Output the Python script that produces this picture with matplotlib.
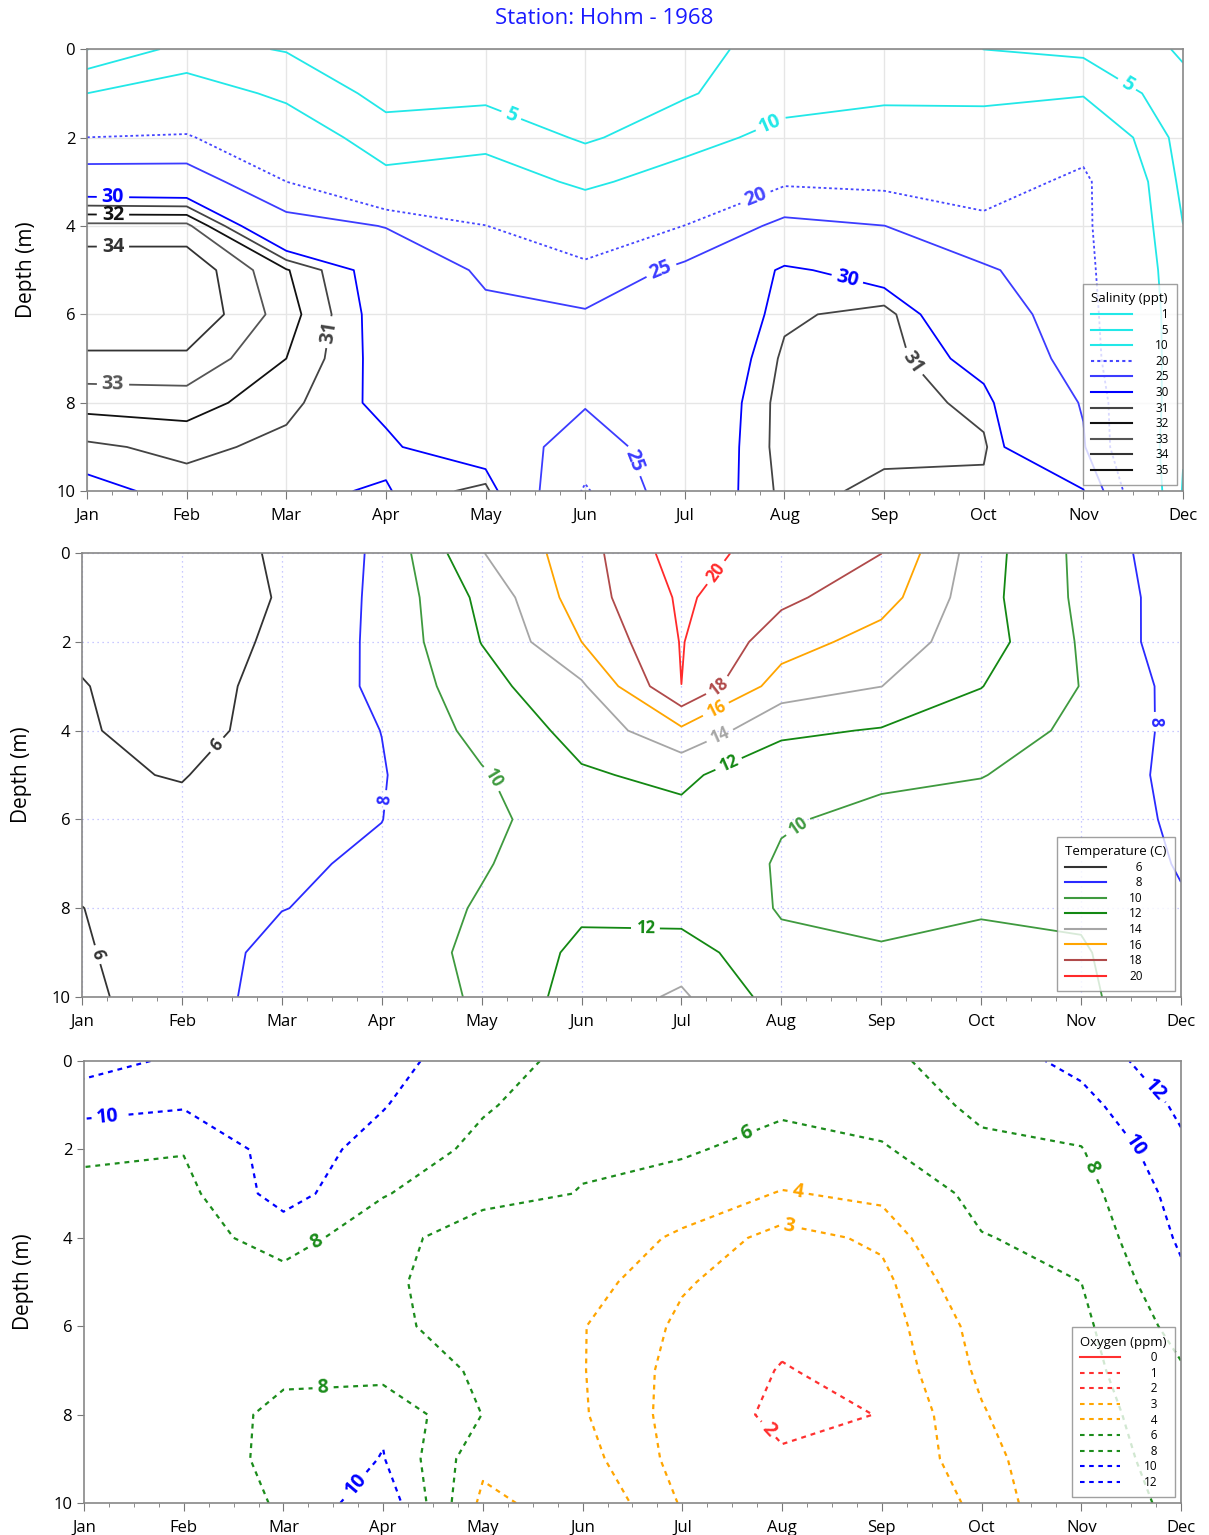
import numpy as np
import matplotlib
matplotlib.use('Agg')
import matplotlib.pyplot as plt
from matplotlib.lines import Line2D

plt.rcParams['font.family'] = ['Open Sans', 'DejaVu Sans']

months = ['Jan', 'Feb', 'Mar', 'Apr', 'May', 'Jun', 'Jul', 'Aug', 'Sep', 'Oct', 'Nov', 'Dec']
depths = [0, 1, 2, 3, 4, 5, 6, 7, 8, 9, 10]

# salinity (ppt), one row per month, depth 0..10 m
salinity = [
    [0.9, 10.0, 20.05, 28.3, 33.3, 34.8, 34.9, 33.8, 32.4, 30.8, 29.5],   # Jan
    [6.5, 13.0, 20.6, 28.1, 33.3, 34.8, 34.9, 33.8, 32.5, 31.3, 30.5],    # Feb
    [4.71, 8.8, 14.1, 20.02, 27.3, 32.1, 32.5, 32.0, 31.3, 30.7, 30.2],   # Mar
    [2.0, 3.5, 7.0, 11.8, 24.8, 29.0, 29.2, 29.4, 29.6, 30.3, 29.9],      # Apr
    [2.0, 3.9, 8.0, 13.4, 20.1, 24.2, 26.0, 26.8, 27.3, 28.5, 31.5],      # May
    [1.5, 2.8, 4.4, 8.8, 15.3, 21.5, 25.5, 25.8, 25.4, 22.5, 19.5],       # Jun
    [3.5, 4.6, 7.6, 13.0, 20.1, 26.2, 27.0, 27.5, 28.0, 28.2, 28.5],      # Jul
    [6.8, 7.5, 12.0, 19.3, 26.4, 30.4, 30.75, 31.25, 31.5, 31.5, 31.3],   # Aug
    [7.5, 8.7, 13.5, 18.7, 25.05, 29.0, 31.5, 31.6, 31.7, 31.2, 30.8],    # Sep
    [4.97, 8.8, 12.9, 17.1, 21.5, 25.6, 27.4, 29.2, 30.6, 31.2, 30.7],    # Oct
    [3.9, 9.45, 17.0, 21.5, 21.5, 22.0, 22.5, 23.0, 24.7, 25.4, 30.2],    # Nov
    [0.6, 1.9, 3.0, 3.8, 5.05, 6.0, 6.5, 6.5, 6.0, 5.3, 4.7],             # Dec
]
sal_levels = [1, 5, 10, 20, 25, 30, 31, 32, 33, 34, 35]

# temperature (C)
temperature = [
    [5.3, 5.5, 5.8, 6.05, 6.2, 6.27, 6.5, 6.4, 5.98, 5.85, 5.6],          # Jan
    [5.4, 5.4, 5.5, 5.43, 5.2, 5.9, 6.5, 6.7, 6.8, 6.85, 7.03],           # Feb
    [6.15, 6.07, 6.18, 6.45, 6.87, 7.2, 7.5, 7.75, 7.95, 8.65, 8.76],     # Mar
    [8.38, 8.48, 8.51, 8.44, 8.02, 7.885, 7.98, 8.25, 8.6, 8.8, 9.0],     # Apr
    [13.9, 12.48, 12.05, 11.27, 10.66, 9.8, 9.3, 9.8, 10.23, 10.51, 10.23],  # May
    [17.13, 17.0, 16.0, 13.67, 12.6, 11.8, 11.56, 11.47, 11.7, 12.4, 12.9],  # Jun
    [21.0, 20.3, 20.1, 19.995, 15.6, 12.4, 11.5, 11.5, 11.1, 13.04, 14.3],   # Jul
    [18.96, 18.4, 17.0, 15.0, 12.4, 10.6, 10.15, 9.8, 9.9, 10.3, 11.1],      # Aug
    [18.02, 16.9, 15.1, 14.02, 11.85, 10.3, 9.6, 9.4, 9.7, 10.1, 10.3],      # Sep
    [12.87, 12.7, 12.9, 12.05, 11.0, 10.05, 9.4, 9.3, 9.9, 10.3, 10.5],      # Oct
    [9.5, 9.6, 9.8, 9.95, 9.57, 9.3, 9.3, 9.3, 9.7, 10.2, 10.4],             # Nov
    [6.62, 6.93, 6.8, 7.3, 7.45, 7.42, 7.61, 7.86, 8.2, 8.4, 8.5],           # Dec
]
temp_levels = [6, 8, 10, 12, 14, 16, 18, 20]

# oxygen (ppm)
oxygen = [
    [12.8, 10.8, 8.2, 7.7, 7.5, 7.4, 7.3, 7.2, 7.2, 7.2, 7.3],       # Jan
    [11.6, 10.2, 8.1, 7.4, 7.3, 7.2, 7.2, 7.3, 7.4, 7.5, 7.6],       # Feb
    [11.5, 11.2, 11.0, 10.9, 8.7, 7.4, 7.4, 7.8, 8.26, 8.25, 8.07],  # Mar
    [10.6, 10.1, 9.3, 8.1, 7.0, 6.5, 6.6, 7.2, 9.65, 10.1, 11.46],   # Apr
    [9.0, 8.2, 7.5, 6.88, 4.5, 4.5, 4.8, 5.7, 5.95, 4.5, 3.5],       # May
    [7.25, 6.9, 6.35, 5.9, 5.0, 4.5, 4.05, 4.05, 4.1, 4.4, 5.0],     # Jun
    [7.3, 6.9, 6.3, 4.9, 3.75, 3.1, 2.8, 2.6, 2.54, 2.6, 2.9],       # Jul
    [7.2, 6.45, 5.1, 3.9, 2.61, 2.4, 2.2, 1.95, 1.8, 2.1, 2.4],      # Aug
    [7.6, 6.9, 5.8, 4.3, 3.2, 2.7, 2.5, 2.3, 2.02, 2.3, 2.6],        # Sep
    [8.93, 8.4, 7.6, 6.6, 5.9, 5.0, 4.4, 4.2, 3.9, 3.5, 3.1],        # Oct
    [10.6, 9.3, 7.9, 7.2, 6.6, 6.0, 5.6, 5.4, 5.3, 5.4, 5.5],        # Nov
    [13.5, 12.4, 11.6, 10.8, 10.3, 9.6, 8.7, 7.8, 7.0, 6.5, 6.2],    # Dec
]
oxy_levels = [0, 1, 2, 3, 4, 6, 8, 10, 12]

DOT = (0, (1.5, 1.5))
DASH = (0, (2.2, 2.2))

sal_colors = ['#22e8e8', '#22e8e8', '#22e8e8', '#4646ff', '#3c3cff', '#0000ff',
              '#444444', '#111111', '#555555', '#333333', '#111111']
sal_styles = ['-', '-', '-', DOT, '-', '-', '-', '-', '-', '-', '-']
temp_colors = ['#333333', '#2a2aff', '#3f9a3f', '#138813', '#a6a6a6', '#ffa500',
               '#b04a4a', '#ff2a2a']
oxy_colors = ['#ff3030', '#ff3030', '#ff3030', '#ffa500', '#ffa500', '#1c8c1c',
              '#1c8c1c', '#0000ff', '#0000ff']
oxy_styles = ['-'] + [DASH] * 8

fig = plt.figure(figsize=(12.09, 15.35), dpi=100)
fig.text(0.5, 0.988, 'Station: Hohm - 1968', ha='center', va='center',
         color='#1a1aff', fontsize=16)

X, Y = np.meshgrid(np.arange(len(months)), depths)


def setup_axis(ax, grid=None):
    ax.set_xlim(0, 11)
    ax.set_ylim(10, 0)
    ax.set_xticks(range(12))
    ax.set_xticklabels(months, fontsize=12)
    ax.set_xticks(np.arange(0, 11.01, 0.25), minor=True)
    ax.set_yticks([0, 2, 4, 6, 8, 10])
    ax.tick_params(axis='y', labelsize=12, length=5, color='#777777')
    ax.tick_params(axis='x', which='major', length=6, color='#777777', pad=6)
    ax.tick_params(axis='x', which='minor', length=3, color='#777777')
    ax.set_ylabel('Depth (m)', fontsize=15, labelpad=14)
    for s in ax.spines.values():
        s.set_color('#888888')
        s.set_linewidth(1.2)
    if grid == 'solid':
        ax.grid(True, color='#e6e6e6', lw=1.0)
    elif grid == 'dotted':
        ax.grid(True, color='#b8b8ff', lw=0.9, ls=(0, (1, 3)))
    ax.set_axisbelow(True)


def add_legend(ax, title, levels, colors, styles):
    handles = [Line2D([], [], color=c, ls=s, lw=1.5) for c, s in zip(colors, styles)]
    names = [str(l).rjust(2, '\u2007') for l in levels]
    leg = ax.legend(handles, names, title=title, loc='lower right',
                    fontsize=8.5, title_fontsize=9.5, frameon=True, fancybox=False,
                    edgecolor='#888888', handlelength=3.4, handletextpad=2.0,
                    labelspacing=0.22, borderaxespad=0.5, borderpad=0.7)
    leg.get_frame().set_linewidth(1.0)
    leg._legend_box.align = 'left'


def labels(ax, cs, spots, size):
    txt = ax.clabel(cs, inline=True, inline_spacing=5, fontsize=size, fmt='%d',
                    manual=spots)
    for t in txt:
        t.set_fontweight('bold')


# ---- salinity
ax1 = fig.add_axes([0.072, 0.680, 0.9065, 0.288])
setup_axis(ax1, 'solid')
cs = ax1.contour(X, Y, np.array(salinity).T, levels=sal_levels, colors=sal_colors,
                 linestyles=sal_styles, linewidths=1.3)
labels(ax1, cs, [(4.25, 1.54), (10.42, 0.86), (6.88, 1.79), (6.72, 3.42), (5.77, 5.05),
                 (5.4, 9.4), (7.64, 5.11), (0.26, 3.35), (0.26, 3.8), (0.26, 4.55),
                 (0.26, 7.65), (2.42, 6.4), (8.34, 6.97)], 14)
add_legend(ax1, 'Salinity (ppt)', sal_levels, sal_colors, sal_styles)

# ---- temperature
ax2 = fig.add_axes([0.0678, 0.3505, 0.909, 0.2892])
setup_axis(ax2, 'dotted')
cs = ax2.contour(X, Y, np.array(temperature).T, levels=temp_levels, colors=temp_colors,
                 linewidths=1.3)
labels(ax2, cs, [(1.35, 4.32), (0.15, 9.05), (3.03, 5.56), (10.74, 3.8), (4.11, 5.07),
                 (7.19, 6.24), (6.49, 4.84), (5.64, 8.45), (6.39, 4.14), (6.35, 3.54),
                 (6.37, 3.0), (6.34, 0.43)], 12)
add_legend(ax2, 'Temperature (C)', temp_levels, temp_colors, ['-'] * 8)

# ---- oxygen
ax3 = fig.add_axes([0.0695, 0.0208, 0.9073, 0.288])
setup_axis(ax3)
cs = ax3.contour(X, Y, np.array(oxygen).T, levels=oxy_levels, colors=oxy_colors,
                 linestyles=oxy_styles, linewidths=1.6)
labels(ax3, cs, [(0.24, 1.33), (2.35, 4.16), (6.66, 1.72), (7.16, 2.96), (7.08, 3.64),
                 (2.4, 7.51), (2.65, 9.43), (6.86, 8.35), (10.14, 2.35), (10.49, 2.01),
                 (10.79, 0.54)], 14)
add_legend(ax3, 'Oxygen (ppm)', oxy_levels, oxy_colors, oxy_styles)

fig.savefig('out.png', dpi=100)
